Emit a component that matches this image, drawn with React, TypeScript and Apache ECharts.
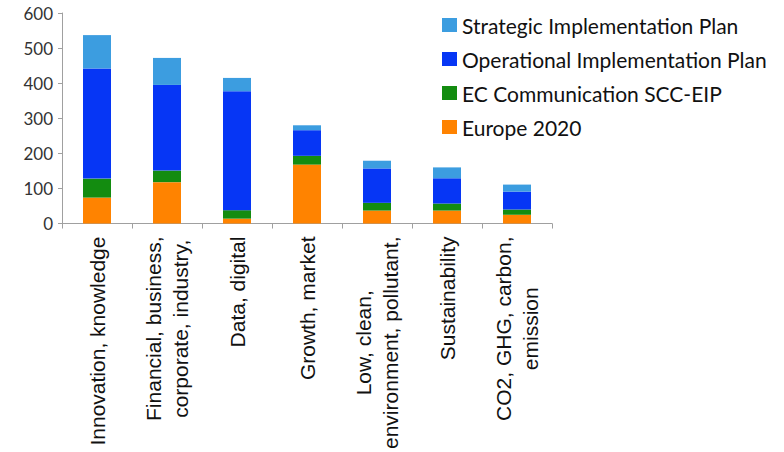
import React, { useEffect, useRef } from "react";
import * as echarts from "echarts";

const categories = [
  "Innovation, knowledge",
  "Financial, business,\ncorporate, industry,",
  "Data, digital",
  "Growth, market",
  "Low, clean,\nenvironment, pollutant,",
  "Sustainability",
  "CO2, GHG, carbon,\nemission",
];
const europe2020 = [74, 118, 14, 168, 37, 37, 25];
const ecCommunication = [54, 33, 24, 25, 22, 20, 15];
const operationalPlan = [314, 244, 339, 73, 98, 72, 51];
const strategicPlan = [95, 77, 38, 14, 22, 31, 20];
const yTicks = [0, 100, 200, 300, 400, 500, 600];

const seriesNames = [
  "Europe 2020",
  "EC Communication SCC-EIP",
  "Operational Implementation Plan",
  "Strategic Implementation Plan",
];
const seriesColors = ["#FF8300", "#138C10", "#0636F5", "#3C9DE0"];
const seriesData = [europe2020, ecCommunication, operationalPlan, strategicPlan];

export default function App() {
  const ref = useRef<HTMLDivElement>(null);
  useEffect(() => {
    document.body.style.margin = "0";
    if (!ref.current) return;
    const chart = echarts.init(ref.current, null, { renderer: "svg" });
    chart.setOption({
      animation: false,
      backgroundColor: "#ffffff",
      grid: { left: 62, right: 232, top: 13, bottom: 227, containLabel: false },
      legend: {
        orient: "vertical",
        left: 437,
        top: 8,
        itemWidth: 15,
        itemHeight: 14,
        itemGap: 10,
        icon: "rect",
        data: [...seriesNames].reverse(),
        textStyle: {
          fontFamily: "Lato",
          fontSize: 21,
          color: "#111",
          lineHeight: 24,
        },
      },
      xAxis: {
        type: "category",
        data: categories,
        axisLine: { lineStyle: { color: "#a0a0a0", width: 1 } },
        axisTick: { show: true, length: 5, lineStyle: { color: "#a0a0a0" } },
        axisLabel: {
          interval: 0,
          rotate: 90,
          margin: 13,
          formatter: (v: string) =>
            v
              .split("\n")
              .map((l) => "{c|" + l + "}")
              .join("\n"),
          rich: {
            c: {
              align: "center",
              fontFamily: "Liberation Sans",
              fontSize: 21,
              lineHeight: 27,
              color: "#111",
            },
          },
        },
      },
      yAxis: {
        type: "value",
        min: 0,
        max: 600,
        interval: 100,
        splitLine: { show: false },
        axisLine: { show: true, lineStyle: { color: "#a0a0a0", width: 1 } },
        axisTick: { show: true, length: 4, lineStyle: { color: "#a0a0a0" } },
        axisLabel: {
          margin: 9,
          fontFamily: "Lato",
          fontSize: 17,
          color: "#333",
          formatter: (v: number) => (yTicks.includes(v) ? String(v) : ""),
        },
      },
      series: seriesNames.map((name, i) => ({
        name,
        type: "bar",
        stack: "total",
        barWidth: 28,
        itemStyle: { color: seriesColors[i] },
        data: seriesData[i],
      })),
    });
    return () => chart.dispose();
  }, []);
  return <div ref={ref} style={{ width: 784, height: 452 }} />;
}
